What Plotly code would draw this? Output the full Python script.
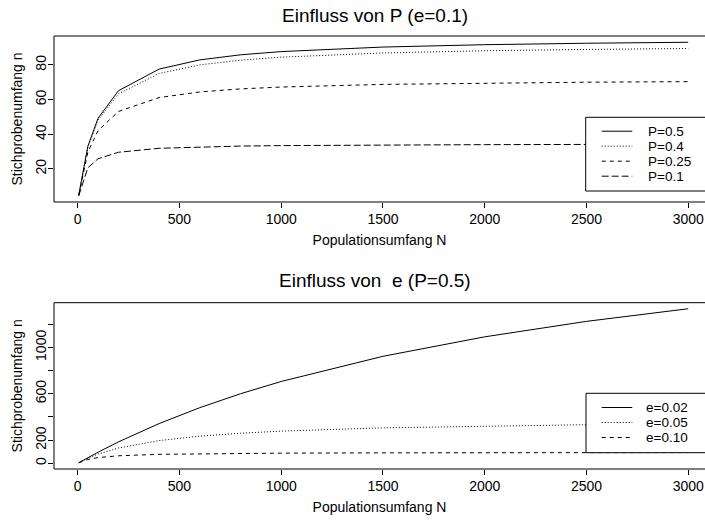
import plotly.graph_objects as go

# Population sizes N
N = [5, 50, 100, 200, 400, 600, 800, 1000, 1500, 2000, 2500, 3000]

# Top panel: influence of P (e = 0.1)
n_P05 = [4.80, 33.11, 49.24, 65.10, 77.60, 82.91, 85.84, 87.70, 90.32, 91.68, 92.52, 93.09]
n_P04 = [4.79, 32.65, 48.22, 63.32, 75.08, 80.03, 82.76, 84.49, 86.91, 88.18, 88.95, 89.48]
n_P025 = [4.74, 29.76, 42.12, 53.15, 61.17, 64.41, 66.16, 67.25, 68.77, 69.56, 70.04, 70.36]
n_P01 = [4.48, 20.68, 25.88, 29.60, 31.90, 32.74, 33.18, 33.45, 33.82, 34.00, 34.12, 34.19]

# Bottom panel: influence of e (P = 0.5)
n_e002 = [4.99, 49.0, 96.04, 184.7, 343.0, 480.2, 600.3, 706.2, 923.5, 1091.4, 1225.0, 1333.9]
n_e005 = [4.95, 44.34, 79.51, 131.75, 196.21, 234.44, 259.75, 277.74, 306.0, 322.4, 333.1, 340.65]
n_e010 = [4.80, 33.11, 49.24, 65.10, 77.60, 82.91, 85.84, 87.70, 90.32, 91.68, 92.52, 93.09]

top_names = ["P=0.5", "P=0.4", "P=0.25", "P=0.1"]
bot_names = ["e=0.02", "e=0.05", "e=0.10"]

x_ticks = [0, 500, 1000, 1500, 2000, 2500, 3000]
top_yticks = [20, 40, 60, 80]
bot_yticks = [0, 200, 400, 600, 800, 1000, 1200]
bot_yticktext = ["0", "200", "", "600", "", "1000", ""]

FONT = "Liberation Sans, Arial, Helvetica, sans-serif"
dashes_top = ["solid", "1px,2px", "4px,4px", "7px,3px"]
dashes_bot = ["solid", "1px,2px", "4px,4px"]

fig = go.Figure()
for ys, nm, d in zip([n_P05, n_P04, n_P025, n_P01], top_names, dashes_top):
    fig.add_trace(go.Scatter(x=N, y=ys, mode="lines", name=nm, showlegend=False,
                             line=dict(color="black", width=1, dash=d),
                             xaxis="x", yaxis="y"))
for ys, nm, d in zip([n_e002, n_e005, n_e010], bot_names, dashes_bot):
    fig.add_trace(go.Scatter(x=N, y=ys, mode="lines", name=nm, showlegend=False,
                             line=dict(color="black", width=1, dash=d),
                             xaxis="x2", yaxis="y2"))

W, H = 705, 521
L, R, T, B = 54, 0, 36, 52
ph = H - T - B
pw = W - L - R


def px(xpix):
    return (xpix - L) / pw


def py(ypix):
    return (H - B - ypix) / ph


top_dom = [py(202), 1.0]
bot_dom = [0.0, py(302.7)]

axis_common = dict(showgrid=False, zeroline=False, showline=False, ticks="outside",
                   ticklen=5, tickwidth=1, tickcolor="black", automargin=False,
                   tickfont=dict(family=FONT, size=14, color="black"))

x_range = [-116.5, 3082.5]

xa = dict(range=x_range, tickvals=x_ticks, ticklabelstandoff=-1,
          title=dict(text="Populationsumfang N", font=dict(size=14), standoff=9),
          **axis_common)
ya_title = dict(text="Stichprobenumfang n", font=dict(size=14), standoff=7)

fig.update_layout(
    width=W, height=H,
    margin=dict(l=L, r=R, t=T, b=B, autoexpand=False),
    paper_bgcolor="white", plot_bgcolor="white",
    font=dict(family=FONT, color="black"),
    showlegend=False,
    xaxis=dict(domain=[0, 1], anchor="y", **xa),
    yaxis=dict(domain=top_dom, anchor="x", range=[0.9, 96.7], tickvals=top_yticks,
               tickangle=-90, ticklabelstandoff=-4, title=ya_title, **axis_common),
    xaxis2=dict(domain=[0, 1], anchor="y2", **xa),
    yaxis2=dict(domain=bot_dom, anchor="x2", range=[-49, 1386], tickvals=bot_yticks,
                ticktext=bot_yticktext, tickangle=-90, ticklabelstandoff=-4,
                title=ya_title, **axis_common),
)

# plot frames (right side runs past the image edge, as in the original)
for xr, yr in [("x domain", "y domain"), ("x2 domain", "y2 domain")]:
    fig.add_shape(type="rect", xref=xr, yref=yr, x0=0, x1=1.05, y0=0, y1=1,
                  line=dict(color="black", width=1), fillcolor="rgba(0,0,0,0)",
                  layer="above")


# legends (R style boxes, running past the right edge)
def add_legend(names, dashes, left, top, bottom, row0, text_left):
    fig.add_shape(type="rect", xref="paper", yref="paper",
                  x0=px(left), x1=px(W + 20), y0=py(bottom), y1=py(top),
                  line=dict(color="black", width=1), fillcolor="white", layer="above")
    for i, (nm, d) in enumerate(zip(names, dashes)):
        yy = row0 + 15 * i
        fig.add_shape(type="line", xref="paper", yref="paper",
                      x0=px(601.7), x1=px(632.3), y0=py(yy), y1=py(yy),
                      line=dict(color="black", width=1, dash=d), layer="above")
        fig.add_annotation(text=nm, xref="paper", yref="paper",
                           x=px(text_left), y=py(yy), showarrow=False,
                           xanchor="left", yanchor="middle", borderpad=0,
                           font=dict(family=FONT, size=13.5, color="black"))


add_legend(top_names, dashes_top, 585.7, 117.3, 191.0, 131.2, 646.5)
add_legend(bot_names, dashes_bot, 586.0, 393.3, 452.7, 407.5, 645.0)

# panel titles
fig.add_annotation(text="Einfluss von P (e=0.1)", xref="paper", yref="paper",
                   x=px(375), y=py(16), showarrow=False,
                   xanchor="center", yanchor="middle",
                   font=dict(family=FONT, size=19, color="black"))
fig.add_annotation(text="Einfluss von \u00a0e (P=0.5)", xref="paper", yref="paper",
                   x=px(375), y=py(280), showarrow=False,
                   xanchor="center", yanchor="middle",
                   font=dict(family=FONT, size=19, color="black"))

fig.write_html("out.html", config={"displayModeBar": False},
               post_script="document.body.style.margin='0px';")
